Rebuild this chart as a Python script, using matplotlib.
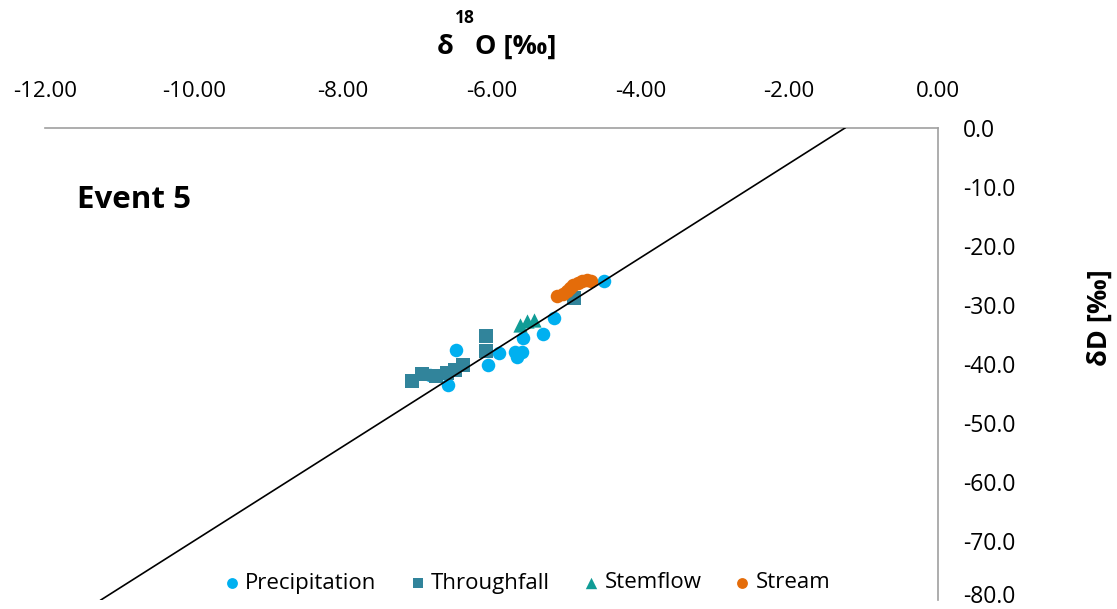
import matplotlib
matplotlib.use("Agg")
import matplotlib.pyplot as plt
import matplotlib.transforms as mtransforms
import numpy as np

# ---- data ----
precip_x = [-4.49, -5.16, -5.31, -5.58, -5.59, -5.66, -5.68, -5.90, -6.05, -6.48, -6.58, -6.83]
precip_y = [-25.9, -32.2, -34.9, -35.6, -38.0, -38.8, -38.0, -38.1, -40.2, -37.6, -43.6, -41.9]

through_x = [-7.07, -6.93, -6.75, -6.60, -6.49, -6.38, -6.07, -6.07, -4.89]
through_y = [-42.9, -41.7, -42.0, -41.5, -41.0, -40.2, -35.3, -37.8, -28.8]

stem_x = [-5.62, -5.52, -5.43]
stem_y = [-33.4, -32.7, -32.5]

stream_x = [-5.12, -5.04, -4.99, -4.95, -4.91, -4.84, -4.78, -4.72, -4.66]
stream_y = [-28.5, -28.1, -27.6, -27.1, -26.6, -26.3, -25.9, -25.8, -25.9]

gmwl_slope = 8.0
gmwl_intercept = 10.0

x_ticks = [-12, -10, -8, -6, -4, -2, 0]
y_ticks = [0, -10, -20, -30, -40, -50, -60, -70, -80]

plt.rcParams['font.family'] = ['Open Sans', 'DejaVu Sans']

fig = plt.figure(figsize=(11.17, 6.09), dpi=100)
ax = fig.add_axes([45/1117, 1-600/609, (938-45)/1117, (600-128)/609])
ax.set_xlim(-12, 0)
ax.set_ylim(-80, 0)

ax.scatter(precip_x, precip_y, s=95, marker='o', color='#00B0F0', label='Precipitation', zorder=2, linewidths=0)
ax.scatter(through_x, through_y, s=95, marker='s', color='#31849B', label='Throughfall', zorder=3, linewidths=0)
ax.scatter(stem_x, stem_y, s=105, marker='^', color='#109C96', label='Stemflow', zorder=4, linewidths=0)
ax.scatter(stream_x, stream_y, s=95, marker='o', color='#E46C0A', label='Stream', zorder=5, linewidths=0)

# GMWL line across the plotted range
y_lo, y_hi = ax.get_ylim()
lx = np.array([(y_lo - gmwl_intercept) / gmwl_slope, (y_hi - gmwl_intercept) / gmwl_slope])
ax.plot(lx, gmwl_slope * lx + gmwl_intercept, color='black', lw=1.2, zorder=6)

for s in ['left', 'bottom']:
    ax.spines[s].set_visible(False)
for s in ['top', 'right']:
    ax.spines[s].set_color('#A0A0A0')
    ax.spines[s].set_linewidth(1.2)

ax.xaxis.tick_top()
ax.yaxis.tick_right()
ax.set_xticks(x_ticks)
ax.set_xticklabels([f"{v:.2f}" for v in x_ticks])
ax.set_yticks(y_ticks)
ax.set_yticklabels([f"{v:.1f}" for v in y_ticks])
ax.tick_params(axis='x', length=0, pad=19, labelsize=16)
ax.tick_params(axis='y', length=0, pad=18, labelsize=16.5)
for lab in ax.get_yticklabels():
    lab.set_horizontalalignment('left')

# keep the bottom-most tick label inside the canvas
fig.canvas.draw()
last = ax.get_yticklabels()[-1]
last.set_transform(last.get_transform() + mtransforms.ScaledTranslation(0, 4/72, fig.dpi_scale_trans))

fig.text(497/1117, 1-47/609, 'δ   O [‰]', ha='center', va='center', fontsize=19.5, fontweight='bold')
fig.text(465/1117, 1-18/609, '18', ha='center', va='center', fontsize=12.5, fontweight='bold')
fig.text(1100/1117, 1-318/609, 'δD [‰]', ha='center', va='center', rotation=90, fontsize=19.5, fontweight='bold')
fig.text(77/1117, 1-200/609, 'Event 5', ha='left', va='center', fontsize=22.5, fontweight='bold')

leg = fig.legend(loc='center', bbox_to_anchor=(525/1117, 1-583/609), ncol=4, frameon=False,
                 fontsize=16, markerscale=0.8, handletextpad=0.05, columnspacing=1.3, handlelength=1.1)

fig.savefig('out.png', dpi=100)
